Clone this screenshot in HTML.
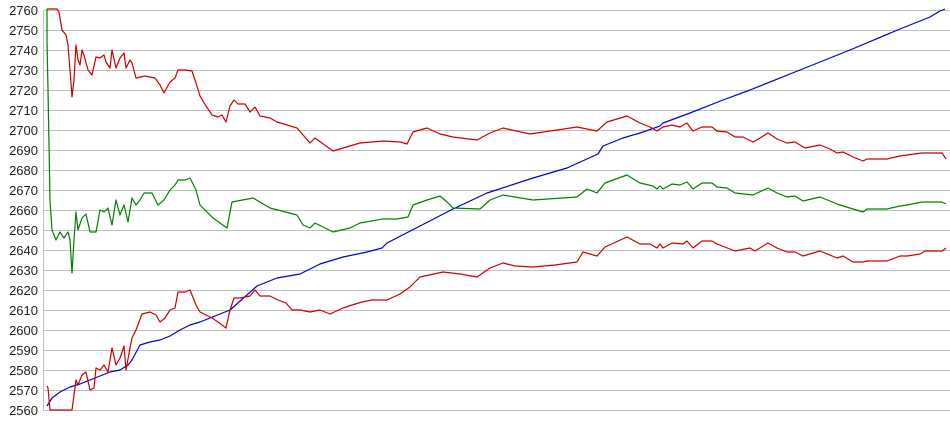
<!DOCTYPE html>
<html><head><style>
html,body{margin:0;padding:0;background:#fff;}
svg{display:block;font-family:"Liberation Sans",Arial,sans-serif;}
</style></head><body>
<svg width="950" height="435" viewBox="0 0 950 435" xmlns="http://www.w3.org/2000/svg">
<g stroke="#c0c0c0" stroke-width="1" shape-rendering="crispEdges">
<line x1="43" y1="10.5" x2="950" y2="10.5"/><line x1="43" y1="30.5" x2="950" y2="30.5"/><line x1="43" y1="50.5" x2="950" y2="50.5"/><line x1="43" y1="70.5" x2="950" y2="70.5"/><line x1="43" y1="90.5" x2="950" y2="90.5"/><line x1="43" y1="110.5" x2="950" y2="110.5"/><line x1="43" y1="130.5" x2="950" y2="130.5"/><line x1="43" y1="150.5" x2="950" y2="150.5"/><line x1="43" y1="170.5" x2="950" y2="170.5"/><line x1="43" y1="190.5" x2="950" y2="190.5"/><line x1="43" y1="210.5" x2="950" y2="210.5"/><line x1="43" y1="230.5" x2="950" y2="230.5"/><line x1="43" y1="250.5" x2="950" y2="250.5"/><line x1="43" y1="270.5" x2="950" y2="270.5"/><line x1="43" y1="290.5" x2="950" y2="290.5"/><line x1="43" y1="310.5" x2="950" y2="310.5"/><line x1="43" y1="330.5" x2="950" y2="330.5"/><line x1="43" y1="350.5" x2="950" y2="350.5"/><line x1="43" y1="370.5" x2="950" y2="370.5"/><line x1="43" y1="390.5" x2="950" y2="390.5"/><line x1="43" y1="410.5" x2="950" y2="410.5"/>
<line x1="43.5" y1="10" x2="43.5" y2="411"/>
</g>
<g font-size="13" fill="#222" text-anchor="end">
<text x="38" y="15">2760</text><text x="38" y="35">2750</text><text x="38" y="55">2740</text><text x="38" y="75">2730</text><text x="38" y="95">2720</text><text x="38" y="115">2710</text><text x="38" y="135">2700</text><text x="38" y="155">2690</text><text x="38" y="175">2680</text><text x="38" y="195">2670</text><text x="38" y="215">2660</text><text x="38" y="235">2650</text><text x="38" y="255">2640</text><text x="38" y="275">2630</text><text x="38" y="295">2620</text><text x="38" y="315">2610</text><text x="38" y="335">2600</text><text x="38" y="355">2590</text><text x="38" y="375">2580</text><text x="38" y="395">2570</text><text x="38" y="415">2560</text>
</g>
<g fill="none" stroke-width="1.2" stroke-linejoin="round">
<polyline stroke="#0000cc" points="47,406 52,398 60,392 70,387 80,384 90,380 100,376 110,372 120,370 128,365 132,360 140,345 150,342 160,340 170,336 180,330 190,325 200,322 230,310 257,286 277,278 300,274 320,264 343,257 367,252 382,248 387,243 453,209 487,193 533,178 567,168 598,154 603,146 623,138 640,133 660,126 663,123 690,113 723,100 750,90 800,70 850,50 900,29 930,17 940,11 945,9"/>
<polyline stroke="#008000" points="47,9 47,40 48,90 49,145 50,200 52,230 56,240 60,232 64,238 68,232 70,240 72,273 74,240 76,212 78,230 82,218 86,214 90,232 96,232 100,210 104,212 108,208 112,225 116,200 120,215 124,205 128,222 132,198 136,205 140,200 144,193 152,193 158,205 164,200 170,190 175,185 178,180 185,180 190,178 196,190 200,205 213,218 227,228 232,202 253,198 270,208 297,215 303,225 310,228 315,223 333,232 350,228 360,223 383,219 397,219 408,217 413,205 427,200 440,196 447,202 453,208 480,209 490,200 503,195 533,200 577,197 587,189 597,193 605,183 627,175 640,183 653,186 657,189 660,186 663,189 672,184 680,185 687,182 693,189 702,183 712,183 717,187 727,188 735,193 753,195 768,188 777,193 787,197 795,196 803,201 820,197 830,201 837,204 853,209 863,212 867,209 887,209 900,206 907,205 922,202 942,202 946,204"/>
<polyline stroke="#cc0000" points="47,9 57,9 59,12 62,30 66,35 68,45 70,70 72,97 74,80 76,45 78,60 80,65 82,50 84,55 88,70 92,75 96,57 100,58 104,55 106,62 110,68 112,50 116,68 120,58 124,53 126,68 130,60 132,63 136,78 145,76 155,78 160,85 164,93 170,82 175,78 178,70 185,70 192,71 196,83 200,96 206,106 212,115 218,117 222,115 226,122 230,106 234,100 238,104 245,104 250,112 255,107 260,116 270,118 277,122 297,128 310,143 315,138 333,151 360,143 383,141 400,142 407,144 413,132 427,128 440,134 453,137 477,140 490,133 503,128 530,134 577,127 597,131 607,122 627,116 640,123 650,127 657,131 663,127 672,125 680,127 687,123 693,131 702,127 712,127 717,131 727,132 735,137 743,137 753,142 760,138 768,133 777,139 787,143 795,142 805,148 820,145 830,149 837,153 843,152 853,157 863,161 867,159 887,159 900,156 907,155 922,153 942,153 946,159"/>
<polyline stroke="#cc0000" points="47,386 48,388 50,410 72,410 74,395 76,380 78,385 82,375 86,372 90,390 94,388 96,368 100,370 104,365 108,372 112,348 116,365 120,358 124,346 126,370 130,348 132,338 136,330 142,314 150,312 156,315 160,322 165,318 170,310 175,308 178,292 185,292 190,290 196,305 200,312 206,315 212,318 218,322 222,325 226,328 230,310 234,298 240,298 250,296 255,290 260,296 270,296 278,300 286,303 292,310 300,310 310,312 320,310 330,314 343,308 352,305 362,302 372,300 387,300 400,294 410,287 420,277 443,272 460,274 477,277 490,268 503,263 515,266 533,267 555,265 577,262 583,252 597,256 605,247 627,237 640,244 650,244 657,248 660,244 663,248 672,243 683,244 687,241 693,248 702,241 712,241 717,244 735,251 750,248 755,251 768,243 777,248 787,252 795,252 803,256 820,251 837,258 843,256 853,262 863,262 867,261 887,261 900,256 907,256 920,254 925,251 942,251 946,248"/>
</g>
</svg>
</body></html>
